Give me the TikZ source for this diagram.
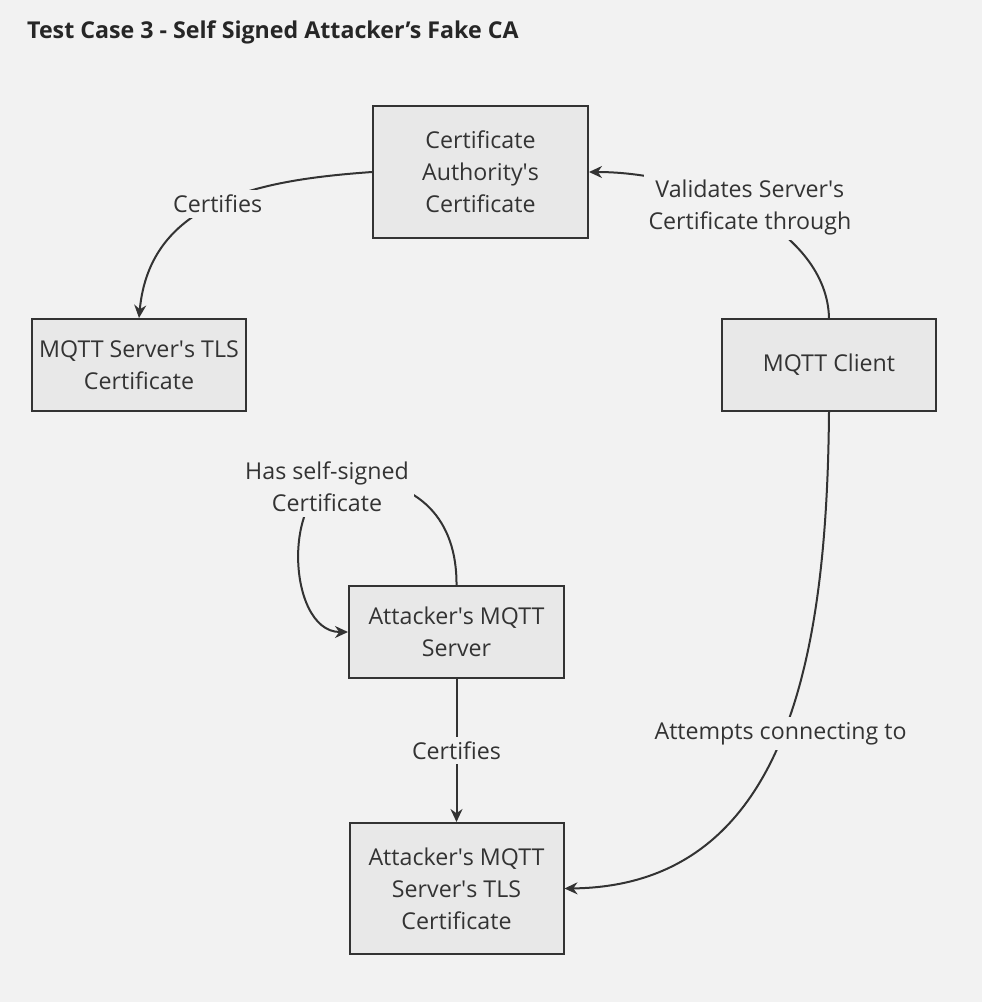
\documentclass[tikz,border=0pt]{standalone}
\usepackage{fontspec}
\setmainfont{Open Sans}
\usetikzlibrary{arrows.meta,positioning}
\definecolor{bgcol}{HTML}{F2F2F2}
\definecolor{boxfill}{HTML}{E8E8E8}
\definecolor{ink}{HTML}{333333}
\newcommand{\q}{\textquotesingle}

\begin{document}
\begin{tikzpicture}[x=1pt, y=-1pt, font=\fontsize{23.2}{32}\selectfont, >={Stealth[length=13pt,width=12pt]},
  box/.style={draw=ink, fill=boxfill, line width=2pt, align=center, text=ink, inner sep=0pt},
  lbl/.style={fill=bgcol, text=ink, align=center, inner sep=5pt},
  link/.style={->, draw=ink, line width=2pt}]
\useasboundingbox[fill=bgcol] (0,0) rectangle (982,1002);

\node[anchor=west, inner sep=0pt, font=\bfseries\fontsize{23.2}{28}\selectfont, text=black!85] (title) at (27,32) {Test Case 3 - Self Signed Attacker’s Fake CA};

\node[box, minimum width=215pt, minimum height=132pt] (ca) at (480.5,172) {Certificate\\Authority\q s\\Certificate};
\node[box, minimum width=214pt, minimum height=92pt] (srvcert) at (139,365) {MQTT Server\q s TLS\\Certificate};
\node[box, minimum width=214pt, minimum height=92pt, right=474pt of srvcert] (client) {MQTT Client};
\node[box, minimum width=215pt, minimum height=92pt] (atksrv) at (456.5,632) {Attacker\q s MQTT\\Server};
\node[box, minimum width=214pt, minimum height=131pt, below=143pt of atksrv] (atkcert) {Attacker\q s MQTT\\Server\q s TLS\\Certificate};

\draw[link] (ca.west) .. controls (260,180) and (150,200) .. (srvcert.north)
  node[lbl, pos=0.5] (lcert) {Certifies};
\draw[link] (client.north) .. controls (827,230) and (700,172) .. (ca.east)
  node[lbl, pos=0.5, yshift=5pt] (lvalid) {Validates Server\q s\\Certificate through};
\draw[link] (atksrv.north) .. controls (457,520) and (420,480) .. (350,478)
  .. controls (280,476) and (285,632) .. (atksrv.west);
\node[lbl] (lself) at (327,487) {Has self-signed\\Certificate};
\draw[link] (atksrv.south) -- (atkcert.north) node[lbl, midway] (lcert2) {Certifies};
\draw[link] (client.south) .. controls (827,650) and (790,886) .. (atkcert.east)
  node[lbl, pos=0.5, yshift=5pt] (lconn) {Attempts connecting to};
\end{tikzpicture}
\end{document}
